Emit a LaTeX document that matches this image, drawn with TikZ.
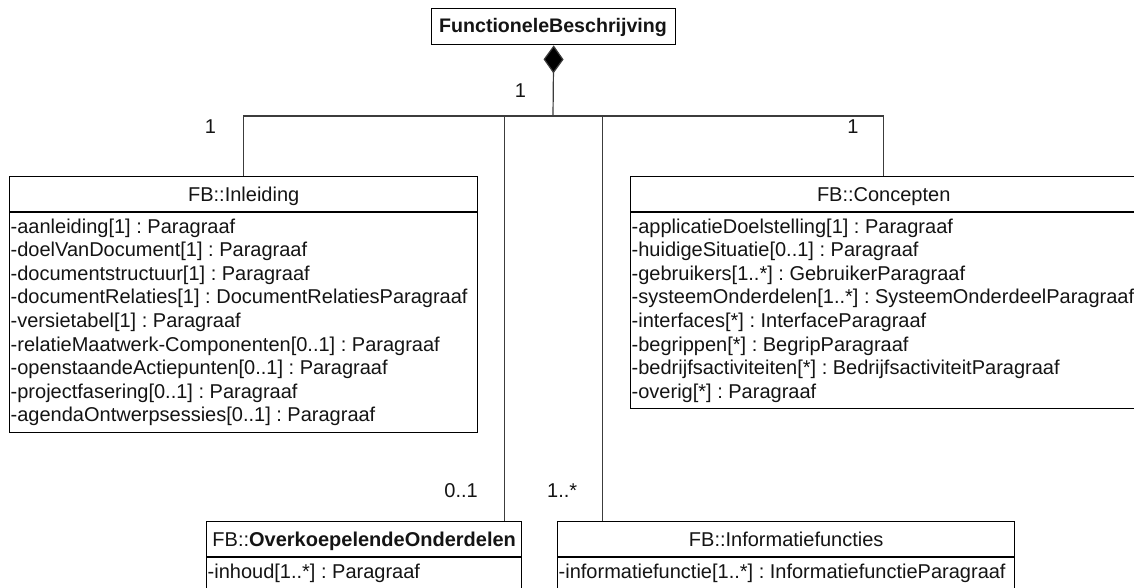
\documentclass[tikz,border=0pt]{standalone}
\usepackage{fontspec}
\setmainfont{Liberation Sans}
\usetikzlibrary{arrows.meta,calc}
\definecolor{ink}{HTML}{141414}
\definecolor{linec}{HTML}{3C3C3C}
\frenchspacing
\begin{document}
\begin{tikzpicture}[x=1pt,y=-1pt,
  box/.style={draw=black,line width=1.4pt,fill=white,inner sep=0pt,anchor=north west},
  sepline/.style={draw=black,line width=1.4pt},
  attr/.style={inner sep=0pt,anchor=base west,text=ink,font=\fontsize{20}{23}\selectfont},
  head/.style={inner sep=0pt,anchor=base,text=ink,font=\fontsize{20}{23}\selectfont},
  mult/.style={inner sep=0pt,text=ink,font=\fontsize{20}{23}\selectfont},
  link/.style={draw=linec,line width=1.2pt}]
\useasboundingbox (0,0) rectangle (1134,588);

% whole: FunctioneleBeschrijving
\node[box,minimum width=244pt,minimum height=36pt] (fb) at (431,8) {};
\node[head,font=\bfseries\fontsize{19.6}{22}\selectfont] (fbt) at (553,32.5) {FunctioneleBeschrijving};

% FB::Inleiding
\node[box,minimum width=468pt,minimum height=256pt] (inl) at (9,176) {};
\draw[sepline] ([yshift=-36pt]inl.north west) -- ([yshift=-36pt]inl.north east);
\node[head] (inlt) at (inl.north |- 0,201.5) {FB::Inleiding};
\foreach \t [count=\i] in {
  -aanleiding[1] : Paragraaf,
  -doelVanDocument[1] : Paragraaf,
  -documentstructuur[1] : Paragraaf,
  -documentRelaties[1] : DocumentRelatiesParagraaf,
  -versietabel[1] : Paragraaf,
  -relatieMaatwerk-Componenten[0..1] : Paragraaf,
  -openstaandeActiepunten[0..1] : Paragraaf,
  -projectfasering[0..1] : Paragraaf,
  -agendaOntwerpsessies[0..1] : Paragraaf}
  \node[attr] (inl-\i) at (10.5,{233+23.6*(\i-1)}) {\t};

% FB::Concepten
\node[box,minimum width=506pt,minimum height=232pt] (con) at (630,176) {};
\draw[sepline] ([yshift=-36pt]con.north west) -- ([yshift=-36pt]con.north east);
\node[head] (cont) at (con.north |- 0,201.5) {FB::Concepten};
\foreach \t [count=\i] in {
  -applicatieDoelstelling[1] : Paragraaf,
  -huidigeSituatie[0..1] : Paragraaf,
  -gebruikers[1..*] : GebruikerParagraaf,
  -systeemOnderdelen[1..*] : SysteemOnderdeelParagraaf,
  -interfaces[*] : InterfaceParagraaf,
  -begrippen[*] : BegripParagraaf,
  -bedrijfsactiviteiten[*] : BedrijfsactiviteitParagraaf,
  -overig[*] : Paragraaf}
  \node[attr] (con-\i) at (631.5,{233+23.6*(\i-1)}) {\t};

% FB::OverkoepelendeOnderdelen
\node[box,minimum width=315pt,minimum height=70pt] (ovk) at (206,521) {};
\draw[sepline] ([yshift=-36pt]ovk.north west) -- ([yshift=-36pt]ovk.north east);
\node[head] (ovkt) at (ovk.north |- 0,546.5) {FB::\textbf{OverkoepelendeOnderdelen}};
\node[attr] (ovk-1) at (207.5,578) {-inhoud[1..*] : Paragraaf};

% FB::Informatiefuncties
\node[box,minimum width=457pt,minimum height=70pt] (inf) at (557,521) {};
\draw[sepline] ([yshift=-36pt]inf.north west) -- ([yshift=-36pt]inf.north east);
\node[head] (inft) at (inf.north |- 0,546.5) {FB::Informatiefuncties};
\node[attr] (inf-1) at (558.5,578) {-informatiefunctie[1..*] : InformatiefunctieParagraaf};

% composition tree
\coordinate (j) at (553,116);
\draw[link,{Diamond[length=28pt,width=20pt,fill=black]}-] (fb.south) -- (j);
\draw[link] (j) -| (inl.north);
\draw[link] (j) -| (con.north);
\draw[link] (j) -| ([xshift=140.5pt]ovk.north);
\draw[link] (j) -| ([xshift=-183.5pt]inf.north);

% multiplicities
\node[mult,anchor=base] (m-fb) at (520.5,98) {1};
\node[mult,anchor=base] (m-inl) at (210.5,134) {1};
\node[mult,anchor=base] (m-con) at (853,134) {1};
\node[mult,anchor=base east] (m-ovk) at (478,497) {0..1};
\node[mult,anchor=base west] (m-inf) at (547,497) {1..*};
\end{tikzpicture}
\end{document}
